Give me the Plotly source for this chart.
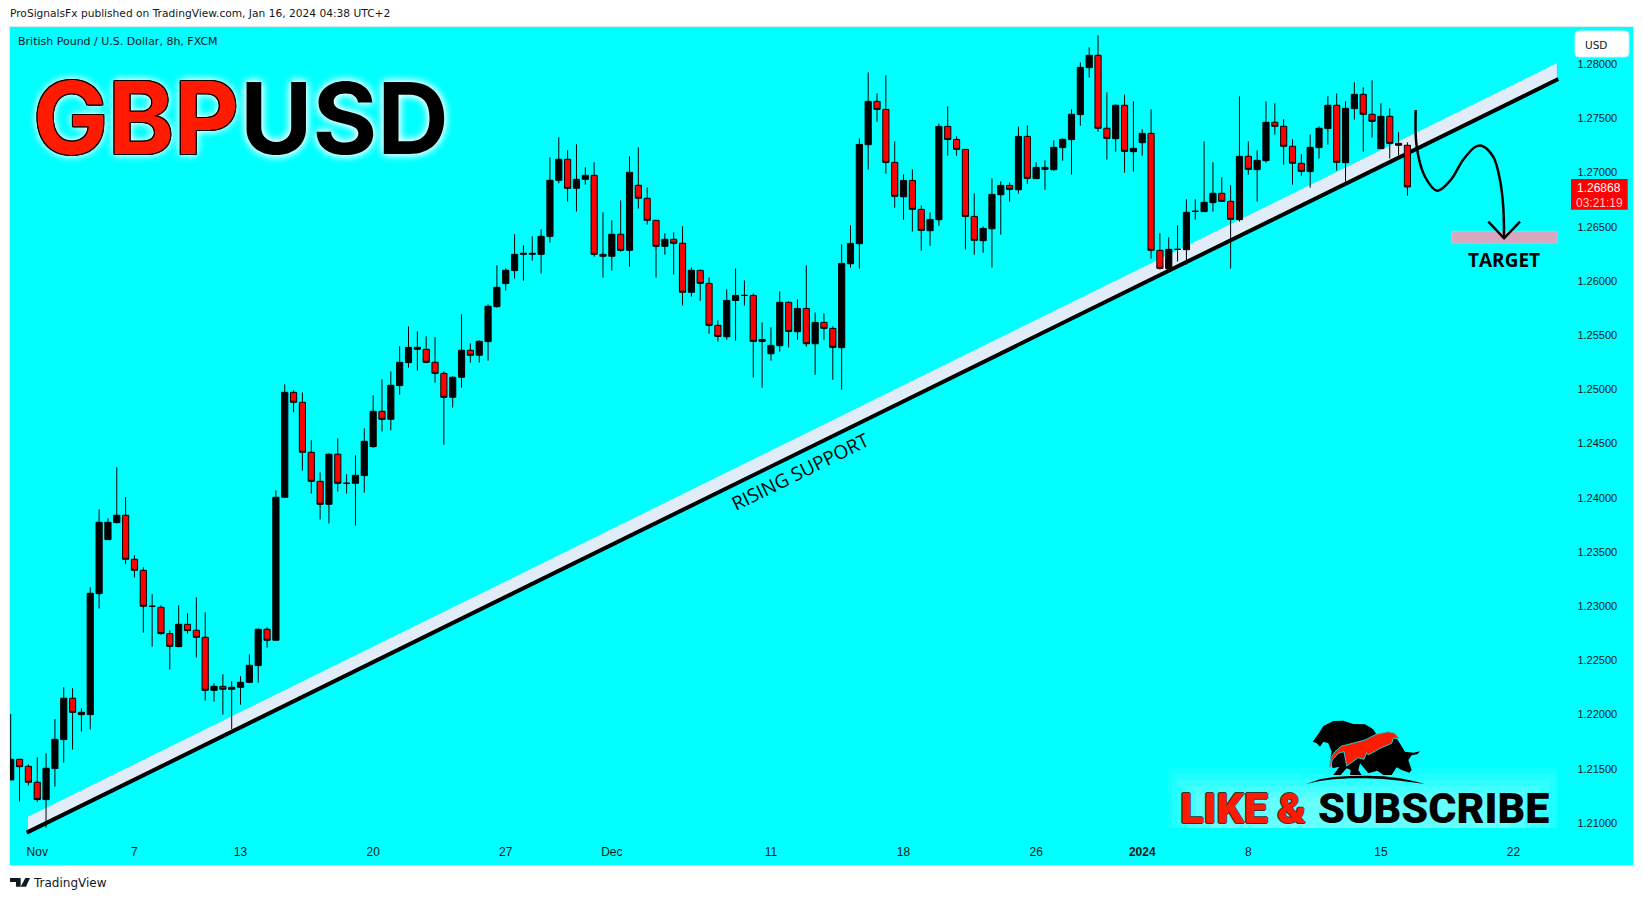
import plotly.graph_objects as go

# ---------- candle data (8h GBP/USD) ----------
opens = [1.21397,1.21588,1.21523,1.21376,1.21216,1.21502,1.21769,1.22151,1.22021,1.22,
1.23116,1.23614,1.23771,1.23839,1.23433,1.23331,1.22999,1.2299,1.22747,1.22627,
1.22833,1.22778,1.22713,1.22224,1.22261,1.22234,1.22252,1.22298,1.22452,1.22787,
1.22686,1.24005,1.24973,1.24881,1.2442,1.24152,1.2394,1.24402,1.24134,1.24134,
1.24205,1.24472,1.24798,1.24724,1.25035,1.25247,1.25388,1.2537,1.2525,1.25148,
1.24927,1.25112,1.25361,1.25315,1.25441,1.25763,1.25976,1.26096,1.26246,1.26246,
1.26246,1.26412,1.26929,1.27123,1.26855,1.26938,1.26975,1.26246,1.26228,1.26431,
1.26283,1.26883,1.26763,1.2656,1.2632,1.26385,1.26348,1.25896,1.26098,1.25978,
1.25591,1.25486,1.25821,1.25867,1.25867,1.25443,1.25329,1.25403,1.25803,1.25532,
1.25747,1.25421,1.25618,1.25563,1.25385,1.26159,1.26344,1.27257,1.27657,1.27583,
1.27094,1.26777,1.26928,1.26661,1.26464,1.26565,1.27426,1.27306,1.27214,1.26596,
1.26372,1.26482,1.26796,1.26882,1.26842,1.27334,1.26944,1.27048,1.27027,1.2723,
1.27304,1.27535,1.27968,1.28082,1.27409,1.27313,1.27621,1.27193,1.27276,1.27362,
1.26283,1.26114,1.26292,1.26289,1.26643,1.2664,1.26723,1.26809,1.26735,1.26566,
1.2715,1.27027,1.2711,1.27464,1.27427,1.27243,1.27086,1.27009,1.2723,1.27406,
1.27621,1.27092,1.2759,1.27722,1.27538,1.27221,1.27519,1.2727,1.27252]
highs = [1.22006,1.21588,1.21542,1.21606,1.21643,1.2196,1.22252,1.22243,1.22058,1.23175,
1.23894,1.23811,1.24282,1.24008,1.2347,1.23359,1.2311,1.23009,1.22778,1.23009,
1.22935,1.23082,1.22944,1.22289,1.22372,1.22307,1.22354,1.22557,1.22796,1.22806,
1.24069,1.25047,1.24992,1.24973,1.24531,1.24235,1.24411,1.24549,1.24217,1.24392,
1.24641,1.24946,1.25093,1.25167,1.25398,1.25582,1.25536,1.2549,1.25481,1.25167,
1.25121,1.25693,1.25425,1.25453,1.25785,1.26145,1.26117,1.26431,1.26329,1.26412,
1.26477,1.27141,1.27326,1.27206,1.27261,1.27049,1.27095,1.26634,1.2656,1.26744,
1.2715,1.27233,1.26864,1.2656,1.2644,1.26449,1.26505,1.26126,1.26107,1.26033,
1.25637,1.25923,1.26116,1.26006,1.25886,1.25618,1.25572,1.25904,1.25812,1.2583,
1.26144,1.2571,1.25701,1.25581,1.26338,1.26513,1.27316,1.27924,1.27731,1.27897,
1.27288,1.26984,1.2703,1.26698,1.26633,1.27454,1.27611,1.27334,1.27214,1.26808,
1.26504,1.26947,1.26919,1.2691,1.27426,1.27436,1.27094,1.27113,1.27298,1.27316,
1.27584,1.28017,1.28156,1.28267,1.27741,1.2763,1.27722,1.27658,1.27399,1.27584,
1.2644,1.26403,1.26514,1.26754,1.26754,1.27289,1.27095,1.26957,1.26883,1.27704,
1.27289,1.27206,1.27658,1.27639,1.27492,1.27307,1.27169,1.27353,1.27427,1.27704,
1.27731,1.27658,1.27833,1.27787,1.27851,1.27639,1.27593,1.27372,1.27279]
lows = [1.21397,1.21197,1.21345,1.21197,1.20958,1.21336,1.21557,1.21677,1.21843,1.21862,
1.22978,1.23614,1.23762,1.23387,1.23264,1.22756,1.22627,1.22738,1.22415,1.22621,
1.22747,1.22526,1.22129,1.2212,1.22,1.21865,1.22092,1.22289,1.22295,1.22618,
1.22686,1.24005,1.24789,1.24251,1.24039,1.23799,1.23762,1.24057,1.24039,1.23743,
1.24048,1.24463,1.24611,1.24623,1.24952,1.25201,1.25173,1.25241,1.25062,1.2449,
1.24832,1.25016,1.25247,1.25247,1.25265,1.25754,1.25911,1.26022,1.26003,1.26188,
1.26068,1.26354,1.26901,1.26732,1.2664,1.26889,1.26225,1.26031,1.26096,1.26271,
1.26132,1.26668,1.2652,1.26031,1.26243,1.26059,1.25773,1.25856,1.25818,1.25514,
1.2544,1.25458,1.25449,1.25772,1.25108,1.25015,1.25265,1.25348,1.25385,1.25458,
1.25394,1.25135,1.25458,1.25089,1.24997,1.26123,1.26113,1.27027,1.27469,1.2699,
1.26676,1.26565,1.26455,1.26279,1.26325,1.2651,1.27156,1.27156,1.26289,1.26242,
1.26261,1.26123,1.26427,1.26731,1.26805,1.26897,1.26944,1.26842,1.27018,1.2711,
1.26981,1.27433,1.27876,1.27378,1.2712,1.27193,1.27,1.27009,1.27156,1.26206,
1.26105,1.26108,1.26179,1.26151,1.26566,1.2664,1.2664,1.26732,1.26114,1.26548,
1.26981,1.26732,1.27092,1.2735,1.27073,1.26889,1.26972,1.26861,1.27129,1.27258,
1.27018,1.26917,1.27489,1.27193,1.27323,1.27221,1.27129,1.2716,1.26787]
closes = [1.21588,1.2152,1.21376,1.21216,1.21505,1.21772,1.22151,1.22021,1.22,1.23119,
1.23774,1.23774,1.23839,1.23433,1.23331,1.22999,1.22999,1.22747,1.2263,1.22833,
1.22775,1.22713,1.22224,1.22261,1.22234,1.22252,1.22298,1.22455,1.22787,1.22686,
1.24005,1.24973,1.24881,1.2442,1.24152,1.2394,1.24402,1.24134,1.24134,1.24208,
1.24521,1.24798,1.24724,1.25038,1.2525,1.25388,1.2537,1.2525,1.25148,1.24927,
1.25112,1.25361,1.25315,1.25444,1.25767,1.25942,1.26099,1.26246,1.26255,1.26255,
1.26412,1.26929,1.27123,1.26855,1.26938,1.26975,1.26246,1.26228,1.26431,1.26283,
1.27003,1.26763,1.2656,1.2632,1.26385,1.26348,1.25896,1.26099,1.25978,1.25591,
1.25489,1.25821,1.25867,1.25867,1.25443,1.25461,1.25406,1.25803,1.25535,1.25747,
1.25421,1.25618,1.25563,1.25388,1.26162,1.26347,1.2726,1.27657,1.27583,1.27094,
1.26781,1.26928,1.26661,1.26467,1.26568,1.27426,1.27306,1.27214,1.26596,1.26375,
1.26485,1.26799,1.26882,1.26845,1.27334,1.26947,1.27048,1.2703,1.27233,1.27307,
1.27538,1.27971,1.28082,1.27409,1.27316,1.27621,1.27196,1.27224,1.27362,1.26283,
1.26117,1.26292,1.26292,1.26634,1.26643,1.26726,1.26809,1.26735,1.26569,1.2715,
1.2703,1.27113,1.27464,1.27427,1.27243,1.27086,1.27012,1.27233,1.27409,1.27621,
1.27095,1.27593,1.27722,1.27538,1.27473,1.27519,1.2727,1.27252,1.26868]
candle_index = list(range(len(opens)))

# ---------- axis labels ----------
price_ticks = [1.21,1.215,1.22,1.225,1.23,1.235,1.24,1.245,1.25,1.255,1.26,1.265,1.27,1.275,1.28]
price_labels = [f"{p:.5f}" for p in price_ticks]
date_ticks = [3,14,26,41,56,68,86,101,116,128,140,155,170]
date_labels = ["Nov","7","13","20","27","Dec","11","18","26","<b>2024</b>","8","15","22"]

# ---------- drawings (bar index, price) ----------
support_x = [1.81,175.07]
support_y = [1.20911,1.27863]
band_x = [1.96,174.9,174.9,1.96]
band_y = [1.21058,1.28008,1.27863,1.20911]
target_x = [163.0,174.95,174.95,163.0,163.0]
target_y = [1.26458,1.26458,1.26348,1.26348,1.26458]
path_x = [158.94,159.05,159.99,161.38,162.9,164.29,165.65,166.4,167.7,168.47,168.84,168.93]
path_y = [1.27578,1.27239,1.26962,1.26833,1.26932,1.27116,1.27236,1.27248,1.27147,1.26932,1.26685,1.26394]
head_x = [167.15,168.93,170.74]
head_y = [1.26547,1.26394,1.26547]

W,H = 1643,901
L,R,T,B = 10,1633,27,865
BAR0,BARW = 10.7,8.84
P0,PY0,PXPER = 1.28,64.2,10840
def px(x): return (x-L)/(R-L)
def py(y): return (B-y)/(B-T)

fig = go.Figure()
fig.add_trace(go.Candlestick(x=candle_index,open=opens,high=highs,low=lows,close=closes,
    increasing=dict(fillcolor="#000000",line=dict(color="#000000",width=1)),
    decreasing=dict(fillcolor="#FF0000",line=dict(color="#000000",width=1)),
    whiskerwidth=0,hoverinfo="skip",showlegend=False))
fig.add_trace(go.Scatter(x=target_x,y=target_y,mode="lines",fill="toself",fillcolor="#D8A8C0",
                         line=dict(color="#A8C8E8",width=1),hoverinfo="skip",showlegend=False))
fig.add_trace(go.Scatter(x=path_x,y=path_y,mode="lines",line=dict(color="#000000",width=2.5,shape="spline"),
                         hoverinfo="skip",showlegend=False))
fig.add_trace(go.Scatter(x=head_x,y=head_y,mode="lines",line=dict(color="#000000",width=2.5),
                         hoverinfo="skip",showlegend=False))

ann = []
def text(x,y,s,size,color="#131722",family="Liberation Sans",anchor="left",weight=None,angle=0,shadow=None):
    f = dict(size=size,color=color,family=family)
    if weight: f["weight"]=weight
    if shadow: f["shadow"]=shadow
    ann.append(dict(xref="paper",yref="paper",x=px(x),y=py(y),text=s,showarrow=False,
                    xanchor=anchor,yanchor="middle",font=f,textangle=angle,borderpad=0,borderwidth=0))

text(10,14,"ProSignalsFx published on TradingView.com, Jan 16, 2024 04:38 UTC+2",10.65,family="DejaVu Sans")
text(18,41,"British Pound / U.S. Dollar, 8h, FXCM",11,family="DejaVu Sans")
outline = "1px 0 0 #000,-1px 0 0 #000,0 1px 0 #000,0 -1px 0 #000,1px 1px 0 #000,-1px -1px 0 #000,1px -1px 0 #000,-1px 1px 0 #000,0 0 9px #fff,0 0 9px #fff"
glow = "0 0 9px #fff,0 0 9px #fff"
text(33,117.5,"GBP",100,color="#FF1A00",family="Inter",weight=700,shadow=outline)
text(240,117.5,"USD",99,color="#000000",family="Inter",weight=700,shadow=glow)
text(799.5,471.5,"RISING SUPPORT",19,color="#000000",family="Open Sans",anchor="center",angle=-26.2,weight=500)
text(1504,260,"TARGET",19,color="#000000",family="Open Sans",anchor="center",weight=700)
text(1585,44.5,"USD",10.5,family="DejaVu Sans")
text(1599,188,"1.26868",12,color="#FFFFFF",anchor="center")
text(1599,202.5,"03:21:19",12,color="#FFC8C8",anchor="center")
redsh = "1px 0 0 #333,-1px 0 0 #333,0 1px 0 #333,0 -1px 0 #333"
text(1180,808,"LIKE",43,color="#FF1A00",family="Roboto",weight=900,shadow=redsh)
text(1277,808,"&amp;",43,color="#FF1A00",family="Roboto",weight=900,shadow=redsh)
text(1318,808,"SUBSCRIBE",43,color="#000000",family="Roboto",weight=900)
text(33,883,"TradingView",12,family="DejaVu Sans")

# ---------- logo & furniture (pixel outlines converted to paper) ----------
def poly(points,fill,ox=1300,oy=710,k=3,line=None,lw=0):
    d = "M "+" L ".join(f"{px(ox+a/k):.5f} {py(oy+b/k):.5f}" for a,b in points)+" Z"
    return dict(type="path",xref="paper",yref="paper",path=d,fillcolor=fill,
                line=dict(color=line or fill,width=lw),layer="above")

beast = [(38,95),(55,72),(70,48),(100,33),(130,32),(160,42),(195,43),(220,58),(232,78),(290,85),(315,125),
         (340,128),(360,124),(352,133),(335,136),(325,150),(335,180),(328,188),(305,180),(290,172),(275,195),
         (250,195),(232,182),(205,190),(180,160),(175,180),(185,195),(150,195),(152,180),(140,175),(122,195),
         (100,195),(118,170),(98,175),(90,150),(95,125),(85,100),(70,95),(60,110),(50,100)]
flame = [(88,172),(92,145),(105,125),(125,108),(150,102),(195,90),(230,72),(265,65),(285,70),(297,85),
         (280,85),(275,100),(240,115),(205,135),(200,128),(192,148),(175,143),(140,168),(132,125),(115,130),(97,150),(92,172)]
ground = [(18,222),(60,208),(100,201),(150,198),(200,197),(250,199),(300,205),(340,213),(375,222),
          (300,212),(250,207),(200,205),(150,205),(100,208),(60,213)]

shapes = []
# support band and line sit under the candles
band_path = "M "+" L ".join(f"{a} {b}" for a,b in zip(band_x,band_y))+" Z"
shapes.append(dict(type="path",xref="x",yref="y",path=band_path,fillcolor="#E0EDF8",line=dict(width=0),layer="below"))
shapes.append(dict(type="line",xref="x",yref="y",x0=support_x[0],y0=support_y[0],x1=support_x[1],y1=support_y[1],
                   line=dict(color="#000000",width=4),layer="below"))
for (x0,y0,x1,y1,op) in [(1168,768,1558,828,.06),(1172,774,1556,828,.07),(1178,780,1550,828,.08),
                         (1186,786,1540,828,.09),(1196,792,1525,828,.1),(1210,798,1510,828,.1)]:
    shapes.append(dict(type="rect",xref="paper",yref="paper",x0=px(x0),x1=px(x1),y0=py(y0),y1=py(y1),
                       fillcolor="#FFFFFF",opacity=op,line=dict(width=0),layer="below"))
shapes.append(poly(beast,"#000000"))
shapes.append(poly(flame,"#FF1A00",line="#20D0D0",lw=1))
shapes.append(poly(ground,"#000000"))
# USD box
x0,x1,y0,y1,r = 1575,1629,31,57,4
shapes.append(dict(type="path",xref="paper",yref="paper",layer="above",fillcolor="#FFFFFF",
    line=dict(color="#C8F0F4",width=1),
    path=(f"M {px(x0+r)} {py(y0)} L {px(x1-r)} {py(y0)} Q {px(x1)} {py(y0)} {px(x1)} {py(y0+r)} "
          f"L {px(x1)} {py(y1-r)} Q {px(x1)} {py(y1)} {px(x1-r)} {py(y1)} "
          f"L {px(x0+r)} {py(y1)} Q {px(x0)} {py(y1)} {px(x0)} {py(y1-r)} "
          f"L {px(x0)} {py(y0+r)} Q {px(x0)} {py(y0)} {px(x0+r)} {py(y0)} Z")))
# last price box
shapes.append(dict(type="rect",xref="paper",yref="paper",layer="above",x0=px(1571),x1=px(1627.7),
                   y0=py(179),y1=py(209.7),fillcolor="#FF0000",line=dict(width=0)))
# TradingView mark
tv_t = [(30,114),(62,114),(62,140),(48,140),(48,126),(30,126)]
tv_s = [(76,114),(90,114),(78,140),(62,140)]
shapes.append(poly(tv_t,"#131722",ox=0,oy=840))
shapes.append(poly(tv_s,"#131722",ox=0,oy=840))

fig.update_layout(
    width=W,height=H,autosize=False,
    margin=dict(l=L,r=W-R,t=T,b=H-B,pad=0),
    paper_bgcolor="#FFFFFF",plot_bgcolor="#00FFFF",
    showlegend=False,boxgap=0.3,boxgroupgap=0,
    annotations=ann,shapes=shapes,hovermode=False,
    xaxis=dict(range=[(L-BAR0)/BARW,(R-BAR0)/BARW],tickmode="array",tickvals=date_ticks,ticktext=date_labels,
               rangeslider=dict(visible=False),showgrid=False,zeroline=False,ticks="",
               ticklabelposition="inside",ticklabelstandoff=6,tickangle=0,
               tickfont=dict(family="Liberation Sans",size=12,color="#131722"),
               showline=True,mirror=True,linecolor="#DDEEEE",linewidth=1),
    yaxis=dict(range=[P0-(B-PY0)/PXPER,P0+(PY0-T)/PXPER],side="right",tickmode="array",tickvals=price_ticks,ticktext=price_labels,
               showgrid=False,zeroline=False,ticks="",ticklabelposition="inside",ticklabelstandoff=15,
               tickfont=dict(family="Liberation Sans",size=11,color="#131722"),
               showline=True,mirror=True,linecolor="#DDEEEE",linewidth=1),
)
fig.write_html("out.html",config=dict(displayModeBar=False),
               post_script="document.body.style.margin='0';document.body.style.overflow='hidden';")
